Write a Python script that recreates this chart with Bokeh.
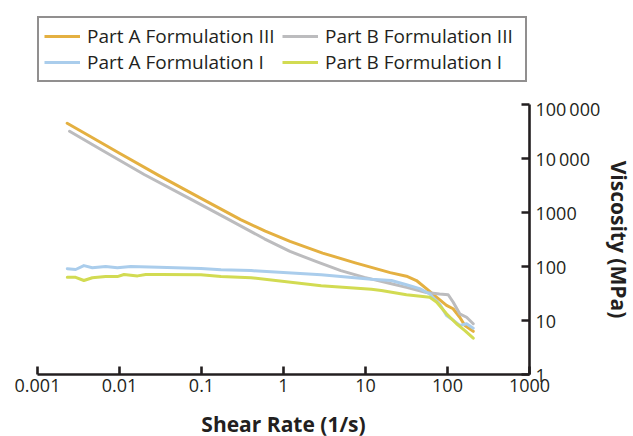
from bokeh.plotting import figure
from bokeh.layouts import column
from bokeh.models import (Legend, LegendItem, FixedTicker, CustomJSTickFormatter)
from bokeh.embed import file_html
from bokeh.resources import INLINE

# ---- data ----
a3_shear = [0.0023, 0.004, 0.01, 0.03, 0.1, 0.3, 0.6, 1.2, 3, 7.5, 20, 31.6, 41.8, 55.3, 73.4, 97.3, 117, 141, 163, 206]
a3_visc = [45000, 27800, 12500, 4880, 1810, 740, 450, 292, 177, 117, 77, 66, 55, 39, 27, 19, 16.5, 11.5, 8.1, 6.3]

b3_shear = [0.00246, 0.006, 0.02, 0.07, 0.208, 0.585, 1.2, 2.62, 5, 9.7, 20.7, 31.6, 55.3, 80, 102, 117, 141, 171, 206]
b3_visc = [32000, 14500, 5050, 1840, 764, 326, 190, 120, 84, 63, 48, 41, 33, 31, 30, 22, 13.3, 11.5, 8.7]

a1_shear = [0.00231, 0.00292, 0.00368, 0.00466, 0.00678, 0.00942, 0.0137, 0.03, 0.0984, 0.173, 0.402, 2.88, 11.8, 20.7, 31.6, 45.8, 60.8, 80.6, 97.3, 112, 141, 171, 206]
a1_visc = [91, 88, 104, 95, 100, 95, 100, 97, 92, 87, 84, 70, 58, 55, 46, 39, 31, 20, 12.4, 10.7, 8.1, 8.7, 7.2]

b1_shear = [0.00231, 0.00292, 0.00368, 0.00466, 0.00678, 0.00942, 0.01135, 0.0166, 0.0209, 0.0319, 0.0984, 0.173, 0.402, 2.88, 11.8, 15.6, 31.6, 60.8, 73.4, 97.3, 129, 163, 206]
b1_visc = [63, 63, 55, 62, 65, 65, 71, 67, 71, 71, 70, 65, 62, 44, 38, 36, 30, 27, 22, 13.3, 8.7, 6.5, 4.7]

series_names = ["Part A Formulation III", "Part B Formulation III",
                "Part A Formulation I", "Part B Formulation I"]
series_colors = ["#E4B041", "#BCBCBE", "#AACDEC", "#D2DB52"]

x_ticks = [0.001, 0.01, 0.1, 1, 10, 100, 1000]
x_tick_labels = ["0.001", "0.01", "0.1", "1", "10", "100", "1000"]
y_ticks = [1, 10, 100, 1000, 10000, 100000]
y_tick_labels = ["1", "10", "100", "1000", "10\u2009000", "100\u2009000"]

x_title = "Shear Rate (1/s)"
y_title = "Viscosity (MPa)"

INK = "#231F20"
FONT = "Open Sans"
FRAME_W = 492
LEFT = 37

data = [(a3_shear, a3_visc), (b3_shear, b3_visc), (a1_shear, a1_visc), (b1_shear, b1_visc)]

# ---------------- main chart ----------------
p = figure(output_backend="svg", toolbar_location=None,
           x_axis_type="log", y_axis_type="log", y_axis_location="right",
           x_range=(0.001, 1000), y_range=(1, 100000),
           frame_width=FRAME_W, frame_height=270,
           min_border_left=LEFT, min_border_top=8, min_border_right=0, min_border_bottom=0)
p.outline_line_color = None
p.xgrid.visible = False
p.ygrid.visible = False
p.background_fill_color = "white"
p.border_fill_color = "white"

for (xs, ys), c in zip(data, series_colors):
    p.line(xs, ys, line_color=c, line_width=3, line_join="round", line_cap="round")

fmt_code = """
let best = 0, bd = 1e9;
for (let i = 0; i < vals.length; i++) {
  const d = Math.abs(Math.log10(vals[i]) - Math.log10(tick));
  if (d < bd) { bd = d; best = i; }
}
return labels[best];
"""

xa = p.xaxis[0]
xa.ticker = FixedTicker(ticks=x_ticks, minor_ticks=[])
xa.formatter = CustomJSTickFormatter(args=dict(vals=x_ticks, labels=x_tick_labels), code=fmt_code)
ya = p.yaxis[0]
ya.ticker = FixedTicker(ticks=y_ticks, minor_ticks=[])
ya.formatter = CustomJSTickFormatter(args=dict(vals=y_ticks, labels=y_tick_labels), code=fmt_code)

for ax in (xa, ya):
    ax.axis_line_color = INK
    ax.axis_line_width = 2.6
    ax.major_tick_line_color = INK
    ax.major_tick_line_width = 2.6
    ax.major_tick_in = 8
    ax.major_tick_out = 0
    ax.minor_tick_line_color = None
    ax.major_label_text_font = FONT
    ax.major_label_text_font_size = "18px"
    ax.major_label_text_color = INK
    ax.axis_label_text_font = FONT
    ax.axis_label_text_font_style = "bold"
    ax.axis_label_text_color = INK

xa.axis_label = x_title
xa.axis_label_text_font_size = "21px"
xa.major_label_standoff = 4
xa.axis_label_standoff = 15
ya.axis_label = y_title
ya.axis_label_text_font_size = "21px"
ya.major_label_standoff = 6
ya.axis_label_standoff = 2

# ---------------- legend strip (separate figure above the chart) ----------------
pl = figure(output_backend="svg", toolbar_location=None,
            frame_width=FRAME_W, frame_height=96, x_axis_type="log", y_axis_type="log",
            x_range=(0.001, 1000), y_range=(0.01, 0.1),
            min_border_left=LEFT, min_border_right=0, min_border_top=0, min_border_bottom=0)
pl.axis.visible = False
pl.grid.visible = False
pl.outline_line_color = None
pl.background_fill_color = "white"
pl.border_fill_color = "white"

# same series drawn here (outside this strip's range) only to feed the legend
leg_renderers = [pl.line(xs, ys, line_color=c, line_width=3)
                 for (xs, ys), c in zip(data, series_colors)]
items = [LegendItem(label=n, renderers=[r]) for n, r in zip(series_names, leg_renderers)]
legend = Legend(items=items, ncols=2, orientation="horizontal",
                location=(0, 14),
                label_text_font=FONT, label_text_font_size="19px", label_text_color=INK,
                glyph_width=36, glyph_height=20, label_height=20, label_width=195,
                label_standoff=7, padding=5, spacing=0,
                border_line_color=INK, border_line_width=2,
                background_fill_color="white", background_fill_alpha=1.0)
pl.add_layout(legend)

layout = column(pl, p, spacing=0)
open("out.html", "w").write(file_html(layout, INLINE))
